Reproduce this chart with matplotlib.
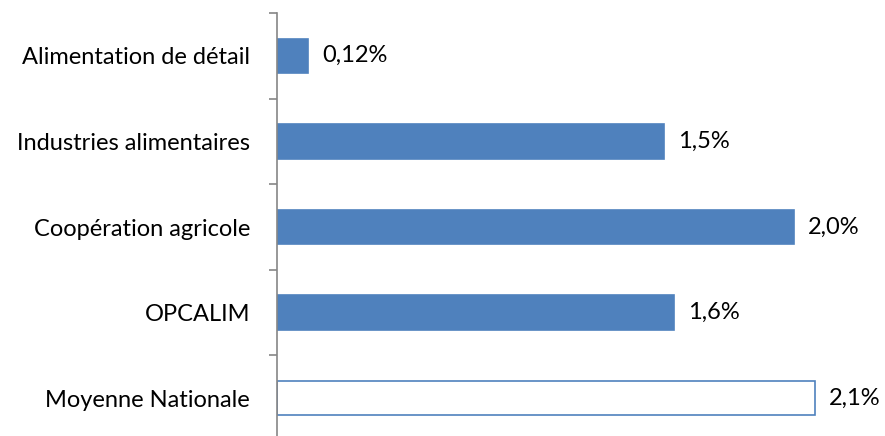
import numpy as np
import matplotlib
matplotlib.use("Agg")
import matplotlib.pyplot as plt

# data (bar lengths), labels as printed
categories = ["Alimentation de détail", "Industries alimentaires", "Coopération agricole",
              "OPCALIM", "Moyenne Nationale"]
values = [0.12, 1.51, 2.02, 1.55, 2.1]
value_labels = ["0,12%", "1,5%", "2,0%", "1,6%", "2,1%"]

plt.rcParams['font.family'] = ['Lato', 'DejaVu Sans']

fig = plt.figure(figsize=(8.85, 4.36), dpi=100)
ax = fig.add_axes([277 / 885, 1 - 441 / 436, 1 - 277 / 885, (441 - 13) / 436])

blue = "#4F81BD"
y = np.arange(len(categories))
colors = [blue] * (len(categories) - 1) + ["white"]
ax.barh(y, values, height=0.40, color=colors, edgecolor=blue, linewidth=1.2)

for yi, v, lab in zip(y, values, value_labels):
    ax.text(v + 0.055, yi, lab, va="center", ha="left", fontsize=17, color="black")

ax.set_ylim(len(categories) - 0.5, -0.5)
ax.set_xlim(0, 608 / 256)

ax.set_yticks(y)
ax.set_yticklabels(categories, fontsize=17)
ax.tick_params(axis="y", which="major", length=0, pad=19.5)
ax.set_yticks(np.arange(len(categories) + 1) - 0.5, minor=True)
ax.tick_params(axis="y", which="minor", length=6, width=1.2, color="#868686")
ax.set_xticks([])

for s in ["top", "right", "bottom"]:
    ax.spines[s].set_visible(False)
ax.spines["left"].set_color("#868686")
ax.spines["left"].set_linewidth(1.2)

fig.savefig("out.png", dpi=100)
